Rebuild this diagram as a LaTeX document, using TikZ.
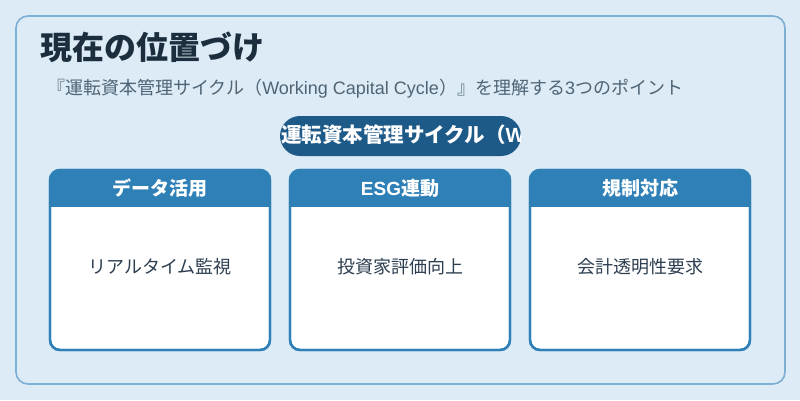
\documentclass[tikz,border=0pt]{standalone}
\usepackage{fontspec}
\setmainfont{Noto Sans CJK JP}
\newfontfamily\latf{Liberation Sans}
\definecolor{bgc}{HTML}{DCEBF6}
\definecolor{outerc}{HTML}{7DB0D3}
\definecolor{pillc}{HTML}{1E5A88}
\definecolor{headc}{HTML}{2E80B7}
\definecolor{titlec}{HTML}{1C2E3D}
\definecolor{subc}{HTML}{4F6475}
\definecolor{bodyc}{HTML}{2C3E50}
\tikzset{
  cardbox/.style={draw=headc, line width=2.4pt, rounded corners=10pt, minimum width=220pt, minimum height=180pt, inner sep=0pt},
  headtext/.style={text=white, font=\fontsize{19pt}{21pt}\selectfont\bfseries, anchor=center, inner sep=0pt},
  bodytext/.style={text=bodyc, font=\fontsize{18pt}{20pt}\selectfont, anchor=center, inner sep=0pt}
}
\begin{document}
\begin{tikzpicture}[x=1pt,y=-1pt]
\useasboundingbox (0,0) rectangle (800,400);
\fill[bgc] (0,0) rectangle (800,400);
\draw[outerc, line width=1.6pt, fill=bgc, rounded corners=12pt] (16,16) rectangle (785,384);
\node[anchor=base west, inner sep=0pt, text=titlec, font=\fontsize{32pt}{34pt}\selectfont\bfseries] (title) at (40,59) {現在の位置づけ};
\node[anchor=west, inner sep=0pt, text=subc, font=\fontsize{18pt}{20pt}\selectfont] (sub) at (47,89) {『運転資本管理サイクル（{\latf Working Capital Cycle}）』を理解する{\latf 3}つのポイント};
% pill
\node[fill=pillc, rounded corners=20pt, minimum width=241pt, minimum height=40pt, inner sep=0pt] (pill) at (400.5,136) {};
\begin{scope}
\clip[rounded corners=20pt] (280,116) rectangle (521,156);
\node[anchor=west, inner sep=0pt, text=white, font=\fontsize{20.5pt}{22pt}\selectfont\bfseries] (pilltext) at (281,136) {運転資本管理サイクル（{\latf Working Capital Cycle}）};
\end{scope}
% cards
\foreach \cx/\nm/\hd/\bd in {160/c1/データ活用/リアルタイム監視, 400/c2/{\latf ESG}連動/投資家評価向上, 640/c3/規制対応/会計透明性要求}{
  \node[cardbox, fill=white] (\nm) at (\cx,260) {};
  \begin{scope}
    \clip[rounded corners=10pt] (\cx-110,170) rectangle (\cx+110,350);
    \fill[headc] (\cx-110,170) rectangle (\cx+110,207);
  \end{scope}
  \node[cardbox] at (\cx,260) {};
  \node[headtext] (\nm h) at (\cx,188.5) {\hd};
  \node[bodytext] (\nm b) at (\cx,267) {\bd};
}
\end{tikzpicture}
\end{document}
